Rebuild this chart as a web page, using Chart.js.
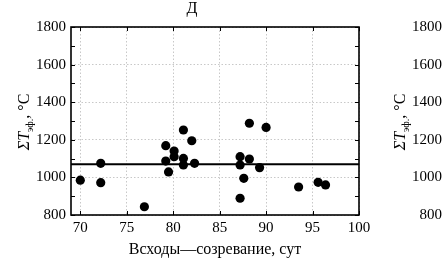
<!DOCTYPE html>
<html>
<head>
<meta charset="utf-8">
<script src="https://cdn.jsdelivr.net/npm/chart.js@4"></script>
<style>
  html, body { margin: 0; padding: 0; background: #fff; overflow: hidden; }
  #wrap { position: relative; width: 442px; height: 261px; overflow: hidden; }
  .pane { position: absolute; top: 0; width: 442px; height: 261px; }
</style>
</head>
<body>
<div id="wrap">
  <div class="pane" style="left:376px"><canvas id="right" width="442" height="261"></canvas></div>
  <div class="pane" style="left:0"><canvas id="left" width="442" height="261"></canvas></div>
</div>
<script>
// Д: days emergence-maturity vs sum of effective temperatures
const daysX = [70, 72.2, 72.2, 76.9, 79.2, 79.2, 79.5, 80.1, 80.1, 81.1, 81.1, 81.1, 82.0, 82.3,
               87.2, 87.2, 87.2, 87.6, 88.2, 88.2, 89.3, 90.0, 93.5, 95.6, 96.4];
const sumT  = [985, 972, 1075, 844, 1169, 1087, 1029, 1140, 1110, 1252, 1101, 1066, 1195, 1075,
               1110, 1066, 889, 995, 1288, 1098, 1052, 1266, 949, 974, 960];
const meanT = 1070;
const xRange = [69, 100];
const yRange = [800, 1800];
const xTicks = [70, 75, 80, 85, 90, 95, 100];
const yTicks = [800, 900, 1000, 1100, 1200, 1300, 1400, 1500, 1600, 1700, 1800];

const SERIF = "'Liberation Serif', 'DejaVu Serif', serif";

// frame, inner tick marks, panel title and the y title with subscript
const decor = {
  id: "decor",
  afterDraw(chart, args, opts) {
    const { ctx, chartArea: a, scales } = chart;
    ctx.save();
    ctx.strokeStyle = "#000";
    ctx.lineWidth = 1;
    xTicks.forEach((v) => {
      const px = Math.round(scales.x.getPixelForValue(v)) + 0.5;
      ctx.beginPath();
      ctx.moveTo(px, a.top); ctx.lineTo(px, a.top + 4);
      ctx.moveTo(px, a.bottom); ctx.lineTo(px, a.bottom - 4);
      ctx.stroke();
    });
    yTicks.forEach((v) => {
      const py = Math.round(scales.y.getPixelForValue(v)) + 0.5;
      ctx.beginPath();
      ctx.moveTo(a.left, py); ctx.lineTo(a.left + 4, py);
      ctx.moveTo(a.right, py); ctx.lineTo(a.right - 4, py);
      ctx.stroke();
    });
    ctx.lineWidth = 1.6;
    ctx.strokeRect(a.left, a.top, a.right - a.left, a.bottom - a.top);

    ctx.fillStyle = "#000";
    if (opts.title) {
      ctx.font = "16px " + SERIF;
      ctx.textAlign = "center";
      ctx.textBaseline = "middle";
      ctx.fillText(opts.title, 192, 9);
    }

    // ΣT эф., °C rotated
    ctx.translate(23, 122);
    ctx.rotate(-Math.PI / 2);
    ctx.textBaseline = "alphabetic";
    ctx.textAlign = "left";
    const parts = [
      { t: "\u03A3", f: "italic 16px " + SERIF, dy: 0 },
      { t: "T", f: "italic 16px " + SERIF, dy: 0 },
      { t: "\u044D\u0444.", f: "10px " + SERIF, dy: 4 },
      { t: ", \u00B0C", f: "16px " + SERIF, dy: 0 },
    ];
    let w = 0;
    parts.forEach((p) => { ctx.font = p.f; p.w = ctx.measureText(p.t).width; w += p.w; });
    let cx = -w / 2;
    parts.forEach((p) => {
      ctx.font = p.f;
      ctx.fillText(p.t, cx, 6 + p.dy);
      cx += p.w;
    });
    ctx.restore();
  },
};

function makeChart(canvas, withData) {
  const datasets = withData
    ? [
        {
          type: "line",
          data: [{ x: xRange[0], y: meanT }, { x: xRange[1], y: meanT }],
          borderColor: "#000",
          borderWidth: 2.2,
          pointRadius: 0,
        },
        {
          type: "scatter",
          data: daysX.map((x, i) => ({ x, y: sumT[i] })),
          backgroundColor: "#000",
          borderColor: "#000",
          pointRadius: 4.6,
          borderWidth: 0,
        },
      ]
    : [];

  return new Chart(canvas, {
    type: "scatter",
    data: { datasets },
    options: {
      responsive: false,
      animation: false,
      layout: { padding: { top: 27, right: 83, bottom: 0, left: 0 } },
      plugins: {
        legend: { display: false },
        tooltip: { enabled: false },
        decor: { title: withData ? "\u0414" : "" },
      },
      scales: {
        x: {
          type: "linear",
          min: xRange[0],
          max: xRange[1],
          afterBuildTicks: (s) => { s.ticks = xTicks.map((v) => ({ value: v })); },
          afterFit: (s) => { s.height = 46; },
          grid: { color: "#c8c8c8", drawTicks: false },
          border: { display: false, dash: [1.5, 2] },
          ticks: { color: "#000", padding: 4, font: { family: SERIF, size: 15 } },
          title: {
            display: withData,
            text: "\u0412\u0441\u0445\u043E\u0434\u044B\u2014\u0441\u043E\u0437\u0440\u0435\u0432\u0430\u043D\u0438\u0435, \u0441\u0443\u0442",
            color: "#000",
            font: { family: SERIF, size: 16 },
            padding: { top: 0, bottom: 2 },
          },
        },
        y: {
          type: "linear",
          min: yRange[0],
          max: yRange[1],
          afterBuildTicks: (s) => { s.ticks = yTicks.map((v) => ({ value: v })); },
          afterFit: (s) => { s.width = 71; },
          grid: { color: "#c8c8c8", drawTicks: false },
          border: { display: false, dash: [1.5, 2] },
          ticks: {
            color: "#000",
            padding: 5,
            font: { family: SERIF, size: 15 },
            callback: (v) => (v % 200 === 0 ? String(v) : ""),
          },
        },
      },
    },
    plugins: [decor],
  });
}

makeChart(document.getElementById("right"), false);
makeChart(document.getElementById("left"), true);
</script>
</body>
</html>
